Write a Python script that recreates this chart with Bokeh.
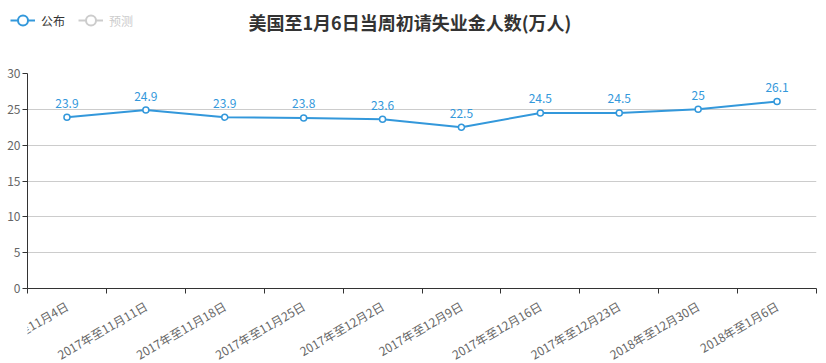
import math
from bokeh.plotting import figure
from bokeh.layouts import column
from bokeh.models import (Range1d, FixedTicker, Label, LabelSet, Legend, LegendItem,
                          ColumnDataSource)
from bokeh.core.properties import value
from bokeh.embed import file_html
from bokeh.resources import INLINE

# ---- data ----
categories = ["2017年至11月4日", "2017年至11月11日", "2017年至11月18日", "2017年至11月25日",
              "2017年至12月2日", "2017年至12月9日", "2017年至12月16日", "2017年至12月23日",
              "2018年至12月30日", "2018年至1月6日"]
values = [23.9, 24.9, 23.9, 23.8, 23.6, 22.5, 24.5, 24.5, 25, 26.1]
y_ticks = [0, 5, 10, 15, 20, 25, 30]
title_text = "美国至1月6日当周初请失业金人数(万人)"
legend_names = ["公布", "预测"]

FONT = "Noto Sans CJK SC"
BLUE = "#3398db"
GRAY_LEG = "#cccccc"

# ---- layout sizes (pixels) ----
W, H = 826, 363
HEAD_H = 45
LEFT, RIGHT = 27, 10
FRAME_W = W - LEFT - RIGHT
FRAME_H = 215
TOP = 73 - HEAD_H
BOT = 10
FOOT_H = H - HEAD_H - TOP - FRAME_H - BOT

n = len(categories)
xs = [i + 0.5 for i in range(n)]
src = ColumnDataSource(dict(x=xs, y=values, t=[f"{v:g}" for v in values], cat=categories))

def clean(fig):
    fig.outline_line_color = None
    fig.background_fill_color = "white"
    fig.border_fill_color = "white"

# ---------- header: title + legend ----------
head = figure(frame_width=W, frame_height=HEAD_H, x_axis_type=None, y_axis_type=None,
              x_range=Range1d(0, W), y_range=Range1d(0, HEAD_H), min_border=0,
              output_backend="svg", toolbar_location=None)
clean(head)

off = dict(x=[-100, -90], y=[-100, -100])   # legend-only renderers, outside the view
lg1_line = head.line(off["x"], off["y"], line_color=BLUE, line_width=2)
lg1_dot = head.scatter(off["x"][:1], off["y"][:1], size=11, fill_color="white", line_color=BLUE, line_width=2)
lg2_line = head.line(off["x"], off["y"], line_color=GRAY_LEG, line_width=2)
lg2_dot = head.scatter(off["x"][:1], off["y"][:1], size=11, fill_color="white", line_color=GRAY_LEG, line_width=2)

def make_legend(label, rends, loc, color):
    return Legend(items=[LegendItem(label=label, renderers=rends)], location=loc,
                  padding=0, margin=0, spacing=0, border_line_color=None,
                  background_fill_alpha=0, glyph_width=25, glyph_height=26,
                  label_height=14, label_standoff=6, label_text_font=FONT,
                  label_text_font_size="12px", label_text_color=color)

head.add_layout(make_legend(legend_names[0], [lg1_line, lg1_dot], (10, HEAD_H - 33), "#333333"), "center")
head.add_layout(make_legend(legend_names[1], [lg2_line, lg2_dot], (78, HEAD_H - 33), GRAY_LEG), "center")

head.add_layout(Label(x=221, y=HEAD_H - 21, x_units="screen", y_units="screen", text=title_text,
                      text_align="left", text_baseline="middle", text_font=FONT,
                      text_font_size="18px", text_font_style="bold", text_color="#333333"))

# ---------- main chart ----------
p = figure(frame_width=FRAME_W, frame_height=FRAME_H, output_backend="svg", toolbar_location=None,
           x_range=Range1d(0, n), y_range=Range1d(y_ticks[0], y_ticks[-1]),
           min_border_left=LEFT, min_border_right=RIGHT, min_border_top=TOP, min_border_bottom=BOT)
clean(p)

p.line("x", "y", source=src, line_color=BLUE, line_width=2)
p.scatter("x", "y", source=src, size=6, fill_color="white", line_color=BLUE, line_width=1.5)
p.text("x", "y", text="t", source=src, text_font=value(FONT), text_font_size="12px",
       text_color=BLUE, text_align="center", text_baseline="alphabetic", y_offset=-14)

xa = p.xaxis[0]
xa.ticker = FixedTicker(ticks=[], minor_ticks=list(range(n + 1)))
xa.major_tick_line_color = None
xa.major_tick_in = 0
xa.major_tick_out = 0
xa.major_label_standoff = 0
xa.major_label_text_font_size = "0px"
xa.minor_tick_line_color = "#333333"
xa.minor_tick_in = 0
xa.minor_tick_out = 5
xa.axis_line_color = "#333333"

ya = p.yaxis[0]
ya.ticker = FixedTicker(ticks=y_ticks, minor_ticks=[])
ya.axis_line_color = "#333333"
ya.major_tick_line_color = "#333333"
ya.major_tick_in = 0
ya.major_tick_out = 5
ya.minor_tick_line_color = None
ya.major_label_text_font = FONT
ya.major_label_text_font_size = "12px"
ya.major_label_text_color = "#666666"
ya.major_label_standoff = 2

p.xgrid.visible = False
p.ygrid.ticker = FixedTicker(ticks=y_ticks[1:])
p.ygrid.grid_line_color = "#cccccc"

# ---------- footer: rotated category labels on the same x step ----------
step = FRAME_W / n
foot = figure(frame_width=W, frame_height=FOOT_H, x_axis_type=None, y_axis_type=None,
              x_range=Range1d(0, W / step), y_range=Range1d(0, FOOT_H),
              min_border=0, output_backend="svg", toolbar_location=None)
clean(foot)
foot.add_layout(LabelSet(x="x", y=FOOT_H - 6, y_units="screen", text="cat", source=src,
                         angle=math.pi / 6, text_align="right", text_baseline="middle",
                         text_font=value(FONT), text_font_size="12px", text_color="#666666"))

layout = column(head, p, foot, spacing=0)
open("out.html", "w").write(file_html(layout, INLINE))
